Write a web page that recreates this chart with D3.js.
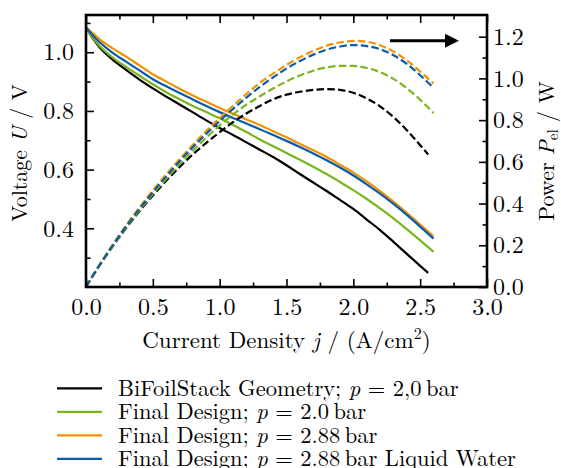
<!DOCTYPE html>
<html>
<head>
<meta charset="utf-8">
<script src="https://cdn.jsdelivr.net/npm/d3@7"></script>
<style>
  body { margin: 0; background: #fff; }
</style>
</head>
<body>
<svg id="chart" width="561" height="468"></svg>
<script>
// current density (A/cm2)
var J = [0, 0.05, 0.1, 0.2, 0.3, 0.4, 0.5, 0.6, 0.7, 0.8, 0.9, 1.0, 1.1, 1.2, 1.3,
         1.4, 1.5, 1.6, 1.7, 1.8, 1.9, 2.0, 2.1, 2.2, 2.3, 2.4, 2.5, 2.6];
var J_BIFOIL = [0, 0.05, 0.1, 0.2, 0.3, 0.4, 0.5, 0.6, 0.7, 0.8, 0.9, 1.0, 1.1, 1.2, 1.3,
         1.4, 1.5, 1.6, 1.7, 1.8, 1.9, 2.0, 2.1, 2.2, 2.3, 2.4, 2.5, 2.56];

// voltage U (V)
var U_BIFOIL = [1.085, 1.048, 1.018, 0.975, 0.940, 0.907, 0.877, 0.849, 0.822, 0.795, 0.768, 0.742, 0.718, 0.693, 0.668,
                0.643, 0.615, 0.585, 0.556, 0.527, 0.497, 0.466, 0.430, 0.394, 0.354, 0.313, 0.272, 0.248];
var U_FINAL20 = [1.085, 1.050, 1.022, 0.982, 0.950, 0.920, 0.891, 0.864, 0.840, 0.817, 0.796, 0.775, 0.752, 0.728, 0.703,
                 0.680, 0.657, 0.634, 0.610, 0.585, 0.558, 0.530, 0.500, 0.468, 0.434, 0.397, 0.359, 0.320];
var U_FINAL288 = [1.085, 1.065, 1.045, 1.013, 0.985, 0.955, 0.925, 0.900, 0.876, 0.853, 0.831, 0.810, 0.790, 0.771, 0.752,
                  0.731, 0.710, 0.688, 0.666, 0.643, 0.617, 0.590, 0.560, 0.527, 0.491, 0.453, 0.413, 0.373];
var U_LIQUID = [1.085, 1.058, 1.035, 0.998, 0.968, 0.938, 0.908, 0.884, 0.861, 0.839, 0.817, 0.796, 0.776, 0.757, 0.738,
                0.718, 0.698, 0.677, 0.655, 0.632, 0.607, 0.580, 0.550, 0.518, 0.483, 0.446, 0.406, 0.365];

// power P_el (W)
var P_BIFOIL = [0, 0.052, 0.102, 0.195, 0.282, 0.363, 0.439, 0.509, 0.575, 0.636, 0.691, 0.742, 0.790, 0.832, 0.868,
                0.900, 0.922, 0.936, 0.945, 0.949, 0.945, 0.931, 0.904, 0.866, 0.815, 0.752, 0.680, 0.635];
var P_FINAL20 = [0, 0.053, 0.102, 0.196, 0.285, 0.368, 0.446, 0.518, 0.588, 0.654, 0.716, 0.775, 0.827, 0.874, 0.914,
                 0.952, 0.986, 1.014, 1.037, 1.053, 1.060, 1.060, 1.050, 1.030, 0.998, 0.953, 0.898, 0.834];
var P_FINAL288 = [0, 0.053, 0.105, 0.203, 0.296, 0.382, 0.463, 0.540, 0.613, 0.682, 0.748, 0.810, 0.869, 0.925, 0.978,
                  1.023, 1.065, 1.101, 1.132, 1.157, 1.172, 1.180, 1.176, 1.159, 1.129, 1.087, 1.033, 0.975];
var P_LIQUID = [0, 0.053, 0.104, 0.200, 0.290, 0.375, 0.454, 0.530, 0.603, 0.671, 0.735, 0.796, 0.854, 0.908, 0.959,
                1.005, 1.047, 1.083, 1.114, 1.138, 1.153, 1.160, 1.155, 1.140, 1.111, 1.070, 1.015, 0.955];

var NAMES = ["BiFoilStack Geometry; ", "Final Design; ", "Final Design; ", "Final Design; "];
var PRESS = ["2,0", "2.0", "2.88", "2.88"];
var SUFFIX = ["", "", "", " Liquid Water"];
var COLORS = ["#000000", "#7ab51d", "#f39200", "#0a5ca8"];

var X_TICKS = [0, 0.5, 1.0, 1.5, 2.0, 2.5, 3.0];
var X_MINOR = [0.25, 0.75, 1.25, 1.75, 2.25, 2.75];
var UL_TICKS = [0.4, 0.6, 0.8, 1.0];
var UL_MINOR = [0.3, 0.5, 0.7, 0.9, 1.1];
var PR_TICKS = [0, 0.2, 0.4, 0.6, 0.8, 1.0, 1.2];
var PR_MINOR = [0.1, 0.3, 0.5, 0.7, 0.9, 1.1];

var SERIES = [
  {j: J_BIFOIL, u: U_BIFOIL, p: P_BIFOIL},
  {j: J, u: U_FINAL20, p: P_FINAL20},
  {j: J, u: U_FINAL288, p: P_FINAL288},
  {j: J, u: U_LIQUID, p: P_LIQUID}
];

var FONT = "'Latin Modern Roman', 'CMU Serif', 'Liberation Serif', serif";
var L = 86, R = 487, T = 15, B = 287;
var svg = d3.select("#chart");

var x = d3.scaleLinear().domain([0, 3]).range([L, R]);
var yU = d3.scaleLinear().domain([0.2, 1.127]).range([B, T]);
var yP = d3.scaleLinear().domain([0, 1.304]).range([B, T]);

svg.append("clipPath").attr("id", "clip")
   .append("rect").attr("x", L).attr("y", T).attr("width", R - L).attr("height", B - T);

var lines = svg.append("g").attr("clip-path", "url(#clip)");
function lineOf(vals, js, y) {
  return d3.line().x(function(d, i){ return x(js[i]); }).y(function(d){ return y(d); })
           .curve(d3.curveMonotoneX)(vals);
}

SERIES.forEach(function(s, k){
  lines.append("path").attr("d", lineOf(s.u, s.j, yU))
       .attr("fill", "none").attr("stroke", COLORS[k]).attr("stroke-width", 2.2);
});
SERIES.forEach(function(s, k){
  lines.append("path").attr("d", lineOf(s.p, s.j, yP))
       .attr("fill", "none").attr("stroke", COLORS[k]).attr("stroke-width", 2.2)
       .attr("stroke-dasharray", "7.5,3.3");
});

// axes, ticks pointing inward
var fmt = d3.format(".1f");
function styleAxis(g) {
  g.select(".domain").remove();
  g.selectAll("line").attr("stroke", "#000").attr("stroke-width", 1.6);
  g.selectAll("text").attr("font-size", 24).style("font-family", FONT);
}
function addAxis(axis, tx, ty) {
  return svg.append("g").attr("transform", "translate(" + tx + "," + ty + ")").call(axis).call(styleAxis);
}

addAxis(d3.axisBottom(x).tickValues(X_TICKS).tickFormat(fmt).tickSize(-8).tickPadding(11), 0, B);
addAxis(d3.axisBottom(x).tickValues(X_MINOR).tickFormat("").tickSize(-4.5), 0, B);
addAxis(d3.axisTop(x).tickValues(X_TICKS).tickFormat("").tickSize(-8), 0, T);
addAxis(d3.axisTop(x).tickValues(X_MINOR).tickFormat("").tickSize(-4.5), 0, T);
addAxis(d3.axisLeft(yU).tickValues(UL_TICKS).tickFormat(fmt).tickSize(-8).tickPadding(12), L, 0);
addAxis(d3.axisLeft(yU).tickValues(UL_MINOR).tickFormat("").tickSize(-4.5), L, 0);
addAxis(d3.axisRight(yP).tickValues(PR_TICKS).tickFormat(fmt).tickSize(-8).tickPadding(6), R, 0);
addAxis(d3.axisRight(yP).tickValues(PR_MINOR).tickFormat("").tickSize(-4.5), R, 0);

// frame
svg.append("rect").attr("x", L).attr("y", T).attr("width", R - L).attr("height", B - T)
   .attr("fill", "none").attr("stroke", "#000").attr("stroke-width", 2.6);

// arrow towards the power axis
var ay = yP(1.18);
svg.append("line").attr("x1", x(2.274)).attr("x2", x(2.70)).attr("y1", ay).attr("y2", ay)
   .attr("stroke", "#000").attr("stroke-width", 3);
svg.append("path")
   .attr("d", "M" + x(2.686) + "," + (ay - 7) + "L" + x(2.79) + "," + ay + "L" + x(2.686) + "," + (ay + 7) + "Z")
   .attr("fill", "#000");

// axis labels
function label(sel, size) { return sel.style("font-family", FONT).attr("font-size", size).attr("fill", "#000"); }

var xl = label(svg.append("text"), 23).attr("x", (L + R) / 2).attr("y", 348).attr("text-anchor", "middle");
xl.append("tspan").text("Current Density ");
xl.append("tspan").attr("font-style", "italic").text("j");
xl.append("tspan").text(" / (A/cm");
xl.append("tspan").attr("font-size", 16).attr("dy", -9).text("2");
xl.append("tspan").attr("dy", 9).text(")");

var yl = label(svg.append("text"), 22).attr("transform", "translate(27," + ((T + B) / 2 + 2) + ") rotate(-90)")
   .attr("text-anchor", "middle");
yl.append("tspan").text("Voltage ");
yl.append("tspan").attr("font-style", "italic").text("U");
yl.append("tspan").text(" / V");

var pl = label(svg.append("text"), 22).attr("transform", "translate(554," + ((T + B) / 2) + ") rotate(-90)")
   .attr("text-anchor", "middle");
pl.append("tspan").text("Power ");
pl.append("tspan").attr("font-style", "italic").text("P");
pl.append("tspan").attr("font-size", 15).attr("dy", 4).text("el");
pl.append("tspan").attr("dy", -4).text(" / W");

// legend
var leg = svg.append("g");
NAMES.forEach(function(n, k){
  var yy = 388.3 + k * 23.5;
  leg.append("line").attr("x1", 57).attr("x2", 102).attr("y1", yy).attr("y2", yy)
     .attr("stroke", COLORS[k]).attr("stroke-width", 2.2);
  var t = label(leg.append("text"), 22.5).attr("x", 118).attr("y", yy + 7.5);
  t.append("tspan").text(n);
  t.append("tspan").attr("font-style", "italic").text("p");
  t.append("tspan").text(" = " + PRESS[k] + "\u2009bar" + SUFFIX[k]);
});
</script>
</body>
</html>
